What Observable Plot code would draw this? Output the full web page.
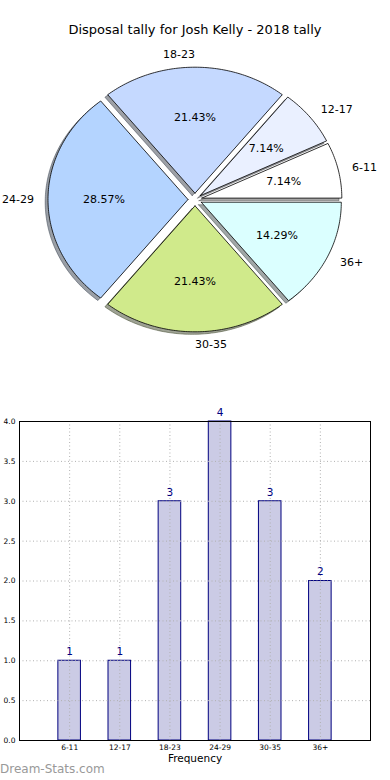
<!DOCTYPE html>
<html><head><meta charset="utf-8">
<script src="https://cdn.jsdelivr.net/npm/d3@7"></script>
<script src="https://cdn.jsdelivr.net/npm/@observablehq/plot@0.6"></script>
<style>
body{margin:0;background:#fff;}
#wrap{position:relative;width:390px;height:780px;overflow:hidden;background:#fff;font-family:"DejaVu Sans",sans-serif;}
.abs{position:absolute;}
svg{overflow:visible;}
</style></head><body><div id="wrap"></div>
<script>
const categories = ["6-11", "12-17", "18-23", "24-29", "30-35", "36+"];
const counts = [1, 1, 3, 4, 3, 2];
const sliceColors = ["#ffffff", "#eaf0ff", "#c5d9ff", "#b4d4ff", "#d0ea8b", "#dbffff"];
const yTicks = [0, 0.5, 1, 1.5, 2, 2.5, 3, 3.5, 4];
const titleText = "Disposal tally for Josh Kelly - 2018 tally";
const xLabelText = "Frequency";
const watermarkText = "Dream-Stats.com";

const wrap = document.getElementById("wrap");
const FONT = "DejaVu Sans";

// ---------- Pie ----------
const total = d3.sum(counts);
const explode = 0.05, shadowOff = 0.02;
const slices = [];
let cum = 0;
categories.forEach((c, i) => {
  const a1 = 2 * Math.PI * cum / total;
  cum += counts[i];
  const a2 = 2 * Math.PI * cum / total;
  const mid = (a1 + a2) / 2;
  const dx = explode * Math.cos(mid), dy = explode * Math.sin(mid);
  const n = Math.max(4, Math.ceil((a2 - a1) / (Math.PI / 180)));
  const pts = [{x: dx, y: dy}];
  for (let k = 0; k <= n; k++) {
    const t = a1 + (a2 - a1) * k / n;
    pts.push({x: dx + Math.cos(t), y: dy + Math.sin(t)});
  }
  pts.push({x: dx, y: dy});
  const cosm = Math.cos(mid), sinm = Math.sin(mid);
  const anchor = Math.abs(cosm) < 1e-6 ? (sinm > 0 ? "end" : "start") : (cosm > 0 ? "start" : "end");
  const col = d3.rgb(sliceColors[i]);
  slices.push({
    cat: c, color: sliceColors[i], pts,
    shadow: pts.map(p => ({x: p.x - shadowOff, y: p.y - shadowOff})),
    shadowColor: d3.rgb(col.r * 0.3, col.g * 0.3, col.b * 0.3).formatHex(),
    lx: 1.15 * cosm, ly: 1.15 * sinm, anchor,
    px: (0.6 + explode) * cosm, py: (0.6 + explode) * sinm,
    pct: (100 * counts[i] / total).toFixed(2) + "%"
  });
});

const PW = 390, PH = 380, CX = 194.5, CY = 199, RX = 140, RY = 126;
const pieMarks = [];
slices.forEach(s => pieMarks.push(Plot.line(s.shadow, {x: "x", y: "y", curve: "linear", fill: s.shadowColor, fillOpacity: 0.5, stroke: s.shadowColor, strokeOpacity: 0.5, strokeWidth: 1})));
slices.forEach(s => pieMarks.push(Plot.line(s.pts, {x: "x", y: "y", curve: "linear", fill: s.color, stroke: "black", strokeWidth: 0.8, strokeLinejoin: "miter"})));
pieMarks.push(Plot.text(slices.filter(s => s.anchor === "start"), {x: "lx", y: "ly", text: "cat", textAnchor: "start", fontSize: 11, fill: "black"}));
pieMarks.push(Plot.text(slices.filter(s => s.anchor === "end"), {x: "lx", y: "ly", text: "cat", textAnchor: "end", fontSize: 11, fill: "black"}));
pieMarks.push(Plot.text(slices, {x: "px", y: "py", text: "pct", fontSize: 11, fill: "black"}));

const pie = Plot.plot({
  width: PW, height: PH, margin: 0,
  x: {domain: [-CX / RX, (PW - CX) / RX], axis: null},
  y: {domain: [-(PH - CY) / RY, CY / RY], axis: null},
  style: {fontFamily: FONT, background: "transparent", overflow: "visible"},
  marks: pieMarks
});
pie.style.position = "absolute"; pie.style.left = "0px"; pie.style.top = "0px";
wrap.appendChild(pie);

const title = document.createElement("div");
title.className = "abs";
title.textContent = titleText;
Object.assign(title.style, {left: "0px", top: "22px", width: "390px", textAlign: "center", fontSize: "13px", lineHeight: "16px", color: "#000"});
wrap.appendChild(title);

// ---------- Bars ----------
const bars = categories.map((c, i) => ({i, cat: c, value: counts[i]}));
const barPlot = Plot.plot({
  width: 390, height: 380, marginTop: 21, marginBottom: 40, marginLeft: 19, marginRight: 20,
  x: {domain: [-1, 6]},
  y: {domain: [0, 4]},
  style: {fontFamily: FONT, background: "transparent", overflow: "visible"},
  marks: [
    Plot.rectY(bars, {x1: d => d.i - 0.225, x2: d => d.i + 0.225, y: "value", fill: "#cbcbe5", stroke: "#00007f", strokeWidth: 1}),
    Plot.gridX({ticks: d3.range(categories.length), stroke: "#b0b0b0", strokeOpacity: 1, strokeDasharray: "1,2.5"}),
    Plot.gridY({ticks: yTicks, stroke: "#b0b0b0", strokeOpacity: 1, strokeDasharray: "1,2.5"}),
    Plot.frame({stroke: "black", strokeWidth: 1}),
    Plot.axisX({ticks: d3.range(categories.length), tickFormat: i => categories[i], tickSize: 0, tickPadding: 4, fontSize: 7.5, label: null}),
    Plot.axisY({ticks: yTicks, tickFormat: d3.format(".1f"), tickSize: 0, tickPadding: 4, fontSize: 7.5, label: null}),
    Plot.text(bars, {x: "i", y: "value", text: d => String(d.value), dy: -9, fill: "#00007f", fontSize: 10.5}),
    Plot.text([xLabelText], {frameAnchor: "bottom", dy: 21, text: d => d, fontSize: 10.5, fill: "black"})
  ]
});
barPlot.style.position = "absolute"; barPlot.style.left = "0px"; barPlot.style.top = "400px";
wrap.appendChild(barPlot);

const wm = document.createElement("div");
wm.className = "abs";
wm.textContent = watermarkText;
Object.assign(wm.style, {left: "0px", top: "762px", fontSize: "12px", lineHeight: "14px", color: "#999"});
wrap.appendChild(wm);
</script></body></html>
